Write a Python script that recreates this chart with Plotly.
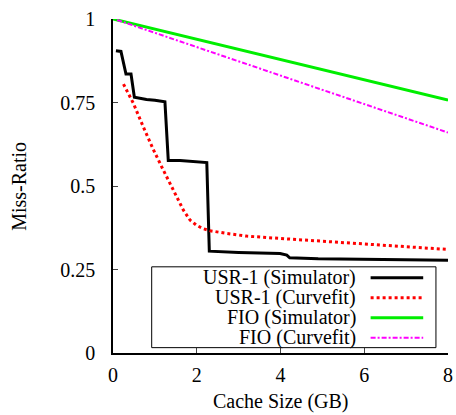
import plotly.graph_objects as go

# ---- data ----
usr_sim_x = [0.07, 0.19, 0.31, 0.43, 0.51, 0.80, 1.00, 1.24, 1.32, 1.60, 2.24, 2.30, 3.00, 3.99, 4.15, 4.22, 4.90, 6.00, 7.00, 8.00]
usr_sim_y = [0.905, 0.903, 0.835, 0.835, 0.766, 0.759, 0.757, 0.752, 0.576, 0.576, 0.570, 0.305, 0.301, 0.298, 0.293, 0.285, 0.282, 0.280, 0.279, 0.278]

usr_fit_x = [0.25, 0.485, 0.72, 0.96, 1.2, 1.36, 1.52, 1.68, 1.84, 2.0, 2.16, 2.32, 2.71, 3.19, 3.99, 4.9, 6.0, 7.0, 8.0]
usr_fit_y = [0.805, 0.748, 0.678, 0.610, 0.548, 0.508, 0.468, 0.428, 0.398, 0.382, 0.372, 0.366, 0.358, 0.350, 0.343, 0.336, 0.326, 0.318, 0.310]

fio_sim_x = [0.0, 8.0]
fio_sim_y = [1.0, 0.757]

fio_fit_x = [0.1, 8.0]
fio_fit_y = [0.997, 0.660]

x_ticks = [0, 2, 4, 6, 8]
y_ticks = [0, 0.25, 0.5, 0.75, 1]
y_tick_labels = ["0", "0.25", "0.5", "0.75", "1"]

legend_names = ["USR-1 (Simulator)", "USR-1 (Curvefit)", "FIO (Simulator)", "FIO (Curvefit)"]
colors = ["#000000", "#ff0000", "#00ee00", "#ff00ff"]
dashes = ["solid", "dot", "solid", "5px,2px,2px,2px"]
widths = [3, 3, 3, 2]

FONT = "Liberation Serif"

fig = go.Figure()
series = [(usr_sim_x, usr_sim_y), (usr_fit_x, usr_fit_y), (fio_sim_x, fio_sim_y), (fio_fit_x, fio_fit_y)]
for (xs, ys), name, c, d, w in zip(series, legend_names, colors, dashes, widths):
    fig.add_trace(go.Scatter(x=xs, y=ys, mode="lines", name=name,
                             line=dict(color=c, dash=d, width=w), showlegend=False))

# manual legend (text right, sample on right as in original)
L, R, T, B = 0.1155, 0.964, 0.258, 0.016
fig.add_shape(type="rect", xref="paper", yref="paper", x0=L, x1=R, y0=B, y1=T,
              line=dict(color="black", width=1), fillcolor="white", layer="above")
rows = [0.2254, 0.1656, 0.1057, 0.0458]
for yr, name, c, d, w in zip(rows, legend_names, colors, dashes, widths):
    fig.add_annotation(x=0.731, y=yr, xref="paper", yref="paper", text=name,
                       showarrow=False, xanchor="right", yanchor="middle",
                       font=dict(family=FONT, size=20, color="black"))
    fig.add_shape(type="line", xref="paper", yref="paper", x0=0.769, x1=0.926, y0=yr, y1=yr,
                  line=dict(color=c, dash=d, width=w), layer="above")

# axis titles
fig.add_annotation(x=0.5, y=-0.146, xref="paper", yref="paper", text="Cache Size (GB)",
                   showarrow=False, xanchor="center", yanchor="middle",
                   font=dict(family=FONT, size=20, color="black"))
fig.add_annotation(x=-0.281, y=0.5, xref="paper", yref="paper", text="Miss-Ratio",
                   showarrow=False, xanchor="center", yanchor="middle", textangle=-90,
                   font=dict(family=FONT, size=20, color="black"))

fig.update_layout(
    width=456, height=415,
    margin=dict(l=113, r=8, t=19, b=62),
    paper_bgcolor="white", plot_bgcolor="white",
    font=dict(family=FONT, size=20, color="black"),
    xaxis=dict(range=[0, 8], tickvals=x_ticks, ticks="inside", ticklen=5, automargin=False,
               showline=True, linecolor="black", linewidth=1.5, showgrid=False, zeroline=False,
               ticklabelstandoff=3, tickfont=dict(family=FONT, size=20)),
    yaxis=dict(range=[0, 1], tickvals=y_ticks, ticktext=y_tick_labels, ticks="inside", ticklen=5,
               automargin=False,
               showline=True, linecolor="black", linewidth=1.5, showgrid=False, zeroline=False,
               ticklabelstandoff=12, tickfont=dict(family=FONT, size=20)),
)

# remove the browser's default 8px body margin so the figure sits at the page origin
fig.write_html("out.html", config={"displayModeBar": False},
               post_script="document.body.style.margin='0';document.body.style.overflow='hidden';")
